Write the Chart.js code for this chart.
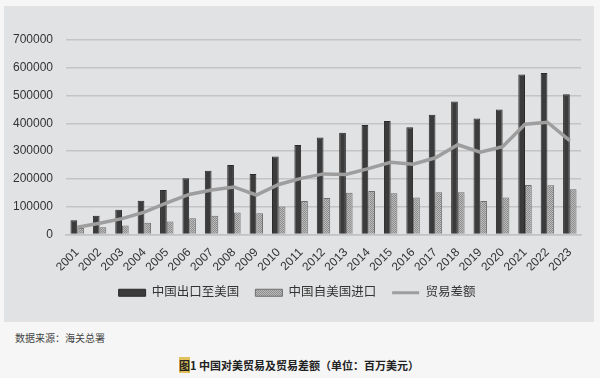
<!DOCTYPE html>
<html>
<head>
<meta charset="utf-8">
<script src="https://cdn.jsdelivr.net/npm/chart.js@4"></script>
<style>
    html, body { margin: 0; padding: 0; background: #f6f6f6; }
    body { width: 600px; height: 378px; position: relative; overflow: hidden;
        font-family: "Liberation Sans", "Noto Sans CJK SC", sans-serif; }
    #panel { position: absolute; left: 4px; top: 6px; width: 590px; height: 316px; background: #e1e2e4; }
    #source { position: absolute; left: 15px; top: 330px; font-size: 10px; color: #444;
        font-family: "Noto Sans CJK SC", sans-serif; }
    #caption { position: absolute; left: 0; width: 598px; top: 357px; text-align: center;
        font-size: 11px; font-weight: bold; color: #222; font-family: "Noto Sans CJK SC", serif; }
    #caption .fig { background: #e3c15a; }
</style>
</head>
<body>
<div id="panel"><canvas id="chart" width="590" height="316"></canvas></div>
<div id="source">数据来源：海关总署</div>
<div id="caption"><span class="fig">图</span>1 中国对美贸易及贸易差额（单位：百万美元）</div>
<script>
// 中国对美贸易（百万美元），数值读自原图
const years = ['2001', '2002', '2003', '2004', '2005', '2006', '2007', '2008', '2009', '2010', '2011', '2012',
    '2013', '2014', '2015', '2016', '2017', '2018', '2019', '2020', '2021', '2022', '2023'];
const exportsToUS = [51000, 67000, 89000, 121000, 160000, 202000, 229000, 250000, 218000, 281000, 322000, 349000,
    366000, 394000, 408000, 386000, 431000, 479000, 417000, 450000, 576000, 581000, 505000];
const importsFromUS = [23000, 26000, 32000, 42000, 47000, 58000, 67000, 79000, 76000, 101000, 120000, 131000,
    150000, 156000, 148000, 133000, 152000, 152000, 120000, 133000, 178000, 177000, 163000];
const tradeBalance = [26000, 40000, 57000, 80000, 114000, 144000, 160000, 171000, 142000, 180000, 202000, 218000,
    216000, 237000, 260000, 253000, 276000, 323000, 296000, 316000, 397000, 404000, 338000];
const yTicks = [0, 100000, 200000, 300000, 400000, 500000, 600000, 700000];

// dotted fill for the import bars
function dotPattern() {
    const c = document.createElement('canvas');
    c.width = 2; c.height = 2;
    const g = c.getContext('2d');
    g.fillStyle = '#bcbcbc';
    g.fillRect(0, 0, 2, 2);
    g.fillStyle = '#8c8c8c';
    g.fillRect(0, 0, 1, 1);
    g.fillRect(1, 1, 1, 1);
    return g.createPattern(c, 'repeat');
}

const font = { family: '"Liberation Sans", "Noto Sans CJK SC", sans-serif', size: 12 };
const canvas = document.getElementById('chart');
const pattern = dotPattern();

canvas.chart = new Chart(canvas, {
    type: 'bar',
    data: {
        labels: years,
        datasets: [
            {
                label: '中国出口至美国',
                data: exportsToUS,
                backgroundColor: '#3b3b3c',
                borderColor: '#2a2a2a',
                borderWidth: 1,
                barPercentage: 1.0,
                categoryPercentage: 0.6,
                order: 1
            },
            {
                label: '中国自美国进口',
                data: importsFromUS,
                backgroundColor: pattern,
                borderColor: '#6e6e6e',
                borderWidth: 1,
                barPercentage: 1.0,
                categoryPercentage: 0.6,
                order: 2
            },
            {
                type: 'line',
                label: '贸易差额',
                data: tradeBalance,
                borderColor: '#9e9e9e',
                backgroundColor: '#9e9e9e',
                borderWidth: 3.5,
                pointRadius: 0,
                tension: 0,
                fill: false,
                order: 0
            }
        ]
    },
    options: {
        responsive: false,
        animation: false,
        layout: { padding: { left: 9, right: 13, top: 34, bottom: 13 } },
        plugins: {
            tooltip: { enabled: false },
            legend: {
                display: true,
                position: 'bottom',
                labels: {
                    usePointStyle: true,
                    pointStyleWidth: 27,
                    boxHeight: 7,
                    padding: 16,
                    color: '#333',
                    font: { family: font.family, size: 12.5 },
                    sort: (a, b) => a.datasetIndex - b.datasetIndex,
                    generateLabels: chart => chart.data.datasets.map((ds, i) => ({
                        text: ds.label,
                        datasetIndex: i,
                        fillStyle: ds.backgroundColor,
                        strokeStyle: ds.borderColor,
                        lineWidth: ds.type === 'line' ? 3 : 1,
                        pointStyle: ds.type === 'line' ? 'line' : 'rect',
                        fontColor: '#333'
                    }))
                }
            }
        },
        scales: {
            x: {
                grid: { display: false },
                border: { display: true, color: '#c2c2c4', width: 1.5 },
                afterFit: axis => {
                    axis.height -= 7;
                    axis.paddingLeft = 0;
                    axis.paddingRight = 0;
                },
                ticks: {
                    color: '#333',
                    font: font,
                    minRotation: 45,
                    maxRotation: 45,
                    autoSkip: false,
                    padding: 3
                }
            },
            y: {
                min: 0,
                max: 700000,
                afterBuildTicks: axis => { axis.ticks = yTicks.map(v => ({ value: v })); },
                afterFit: axis => { axis.width = 53; },
                grid: { color: '#c4c4c6', lineWidth: 1.5, drawTicks: false },
                border: { display: false },
                ticks: {
                    color: '#333',
                    font: font,
                    padding: 13,
                    callback: v => String(v)
                }
            }
        }
    }
});
</script>
</body>
</html>
